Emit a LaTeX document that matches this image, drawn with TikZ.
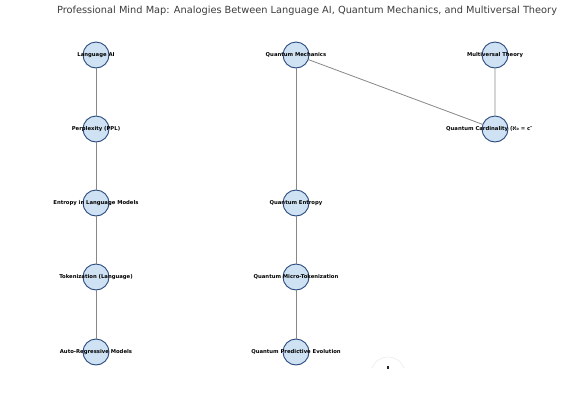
\documentclass[tikz,border=0pt]{standalone}
\usepackage{fontspec}
\setmainfont{DejaVu Sans}
\begin{document}
\begin{tikzpicture}[x=1pt,y=-1pt,
  concept/.style={circle,draw=nodeedge,fill=nodefill,line width=0.9pt,minimum size=26pt,inner sep=0pt},
  lbl/.style={font=\fontsize{5.3}{6}\selectfont\bfseries,text=black,inner sep=0pt},
  link/.style={draw=linkgray,line width=0.8pt}]
\definecolor{nodefill}{RGB}{207,226,243}
\definecolor{nodeedge}{RGB}{40,72,125}
\definecolor{linkgray}{RGB}{135,135,135}
\definecolor{titlegray}{RGB}{60,60,60}
\useasboundingbox (0,0) rectangle (568,405);
\node[font=\fontsize{9.8}{12}\selectfont,text=titlegray] (title) at (307,11) {Professional Mind Map: Analogies Between Language AI, Quantum Mechanics, and Multiversal Theory};
% nodes
\node[concept] (lai) at (96,55) {};
\node[concept] (ppl) at (96,129) {};
\node[concept] (ent) at (96,203) {};
\node[concept] (tok) at (96,277) {};
\node[concept] (arm) at (96,352) {};
\node[concept] (qm) at (296,55) {};
\node[concept] (qe) at (296,203) {};
\node[concept] (qmt) at (296,277) {};
\node[concept] (qpe) at (296,352) {};
\node[concept] (mvt) at (495,55) {};
\node[concept] (qc) at (495,129) {};
% edges
\path[link] (lai) -- (ppl) (ppl) -- (ent) (ent) -- (tok) (tok) -- (arm);
\path[link] (qm) -- (qe) (qe) -- (qmt) (qmt) -- (qpe);
\path[link] (qm) -- (qc) (mvt) -- (qc);
% labels
\node[lbl] (llai) at (lai) {Language AI};
\node[lbl] (lppl) at (ppl) {Perplexity (PPL)};
\node[lbl] (lent) at (ent) {Entropy in Language Models};
\node[lbl] (ltok) at (tok) {Tokenization (Language)};
\node[lbl] (larm) at (arm) {Auto-Regressive Models};
\node[lbl] (lqm) at (qm) {Quantum Mechanics};
\node[lbl] (lqe) at (qe) {Quantum Entropy};
\node[lbl] (lqmt) at (qmt) {Quantum Micro-Tokenization};
\node[lbl] (lqpe) at (qpe) {Quantum Predictive Evolution};
\node[lbl] (lmvt) at (mvt) {Multiversal Theory};
\node[lbl,anchor=west] (lqc) at (446,129) {Quantum Cardinality (ℵ₀ = c″};
% clipped partial circle at bottom
\begin{scope}
\clip (360,340) rectangle (420,367.5);
\node[circle,draw=black!8,line width=0.6pt,minimum size=34pt] (ghost) at (388,374) {};
\end{scope}
\fill[black!85] (387.4,365.5) rectangle (388.6,368.5);
\end{tikzpicture}
\end{document}
